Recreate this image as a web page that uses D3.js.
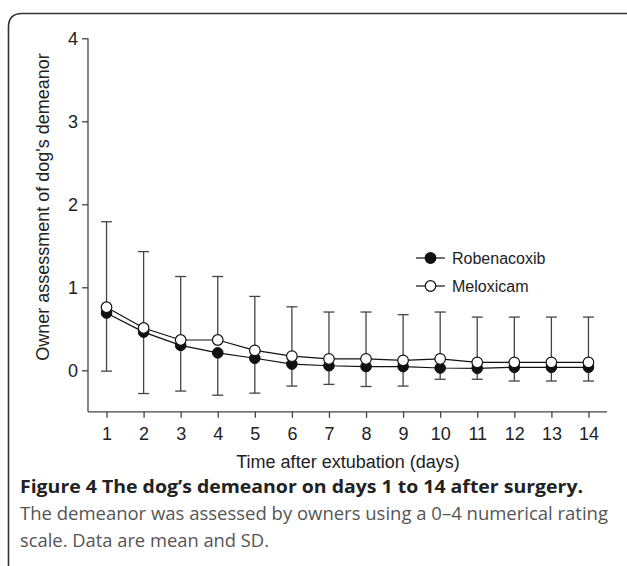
<!DOCTYPE html>
<html><head><meta charset="utf-8">
<script src="https://cdn.jsdelivr.net/npm/d3@7"></script>
<style>body{margin:0;background:#fff}svg{display:block}</style>
</head><body>
<script>
const days = [1,2,3,4,5,6,7,8,9,10,11,12,13,14];
const roboMean = [0.69,0.46,0.30,0.21,0.145,0.075,0.055,0.045,0.045,0.028,0.024,0.036,0.036,0.036];
const roboSD   = [0.70,0.74,0.55,0.51,0.42,0.265,0.225,0.24,0.235,0.136,0.132,0.165,0.165,0.165];
const meloMean = [0.76,0.51,0.365,0.365,0.24,0.17,0.137,0.137,0.12,0.137,0.096,0.096,0.096,0.096];
const meloSD   = [1.03,0.92,0.765,0.765,0.65,0.595,0.565,0.565,0.55,0.565,0.545,0.545,0.545,0.545];
const yTicks = [0,1,2,3,4];
const seriesNames = ["Robenacoxib","Meloxicam"];
const captionTitle = "Figure 4 The dog\u2019s demeanor on days 1 to 14 after surgery.";
const captionLines = ["The demeanor was assessed by owners using a 0\u20134 numerical rating","scale. Data are mean and SD."];

const W=627,H=566;
const svg=d3.select("body").append("svg").attr("width",W).attr("height",H);
const x=d3.scaleLinear().domain([0.5,14.5]).range([88,607]);
const y=d3.scaleLinear().domain([-0.5,4]).range([411.8,38.3]);
const font="Liberation Sans, Arial, Helvetica, sans-serif";
const fs=18;
const axisCol="#444";

// frame
svg.append("path").attr("d","M8.5,570 L8.5,27 Q8.5,13.5 22,13.5 L630,13.5")
  .attr("fill","none").attr("stroke","#333").attr("stroke-width",1.6);

// axes
const gx=svg.append("g").attr("transform",`translate(0,${y(-0.5)})`)
  .call(d3.axisBottom(x).tickValues(days).tickSize(6).tickPadding(9).tickFormat(d3.format("d")));
gx.select(".domain").attr("d",`M${x(0.5)},0H${x(14.5)}`);
const gy=svg.append("g").attr("transform",`translate(${x(0.5)},0)`)
  .call(d3.axisLeft(y).tickValues(yTicks).tickSize(6).tickPadding(4).tickFormat(d3.format("d")));
gy.select(".domain").attr("d",`M0,${y(4)}V${y(-0.5)}`);
[gx,gy].forEach(g=>{
  g.attr("font-size",null);
  g.selectAll(".domain,line").attr("stroke",axisCol).attr("stroke-width",1.3);
  g.selectAll("text").attr("font-family",font).attr("font-size",fs).attr("fill","#222");
});

svg.append("text").attr("x",348).attr("y",468).attr("text-anchor","middle")
  .attr("font-family",font).attr("font-size",fs).attr("fill","#222").text("Time after extubation (days)");
svg.append("text").attr("transform","translate(49,207) rotate(-90)").attr("text-anchor","middle")
  .attr("font-family",font).attr("font-size",fs).attr("fill","#222").text("Owner assessment of dog's demeanor");

// error bars
const cap=5.5;
const eb=svg.append("g").attr("stroke","#444").attr("stroke-width",1.3).attr("fill","none");
days.forEach((d,i)=>{
  const xm=x(d);
  const top=meloMean[i]+meloSD[i], bot=roboMean[i]-roboSD[i];
  eb.append("line").attr("x1",xm).attr("x2",xm).attr("y1",y(meloMean[i])).attr("y2",y(top));
  eb.append("line").attr("x1",xm-cap).attr("x2",xm+cap).attr("y1",y(top)).attr("y2",y(top));
  eb.append("line").attr("x1",xm).attr("x2",xm).attr("y1",y(roboMean[i])).attr("y2",y(bot));
  eb.append("line").attr("x1",xm-cap).attr("x2",xm+cap).attr("y1",y(bot)).attr("y2",y(bot));
});

const line=d3.line().x((d,i)=>x(days[i])).y(d=>y(d));
svg.append("path").attr("d",line(roboMean)).attr("fill","none").attr("stroke","#111").attr("stroke-width",1.2);
svg.append("path").attr("d",line(meloMean)).attr("fill","none").attr("stroke","#111").attr("stroke-width",1.2);
svg.append("g").selectAll("circle").data(roboMean).join("circle")
  .attr("cx",(d,i)=>x(days[i])).attr("cy",d=>y(d)).attr("r",5.3).attr("fill","#111").attr("stroke","#111").attr("stroke-width",1);
svg.append("g").selectAll("circle").data(meloMean).join("circle")
  .attr("cx",(d,i)=>x(days[i])).attr("cy",d=>y(d)).attr("r",5.3).attr("fill","#fff").attr("stroke","#111").attr("stroke-width",1.2);

// legend
const leg=svg.append("g");
seriesNames.forEach((n,i)=>{
  const ly=258+i*28;
  leg.append("line").attr("x1",416).attr("x2",445).attr("y1",ly).attr("y2",ly).attr("stroke","#111").attr("stroke-width",1.2);
  leg.append("circle").attr("cx",430.5).attr("cy",ly).attr("r",5.3)
    .attr("fill",i===0?"#111":"#fff").attr("stroke","#111").attr("stroke-width",1.2);
  leg.append("text").attr("x",452).attr("y",ly+6).attr("font-family",font).attr("font-size",16).attr("fill","#222").text(n);
});

// caption
const cfont="'Open Sans', 'Noto Sans', sans-serif";
svg.append("text").attr("x",20).attr("y",493).attr("font-family",cfont).attr("font-weight","bold")
  .attr("font-size",17.5).attr("fill","#222").attr("textLength",563).attr("lengthAdjust","spacingAndGlyphs").text(captionTitle);
svg.append("text").attr("x",20).attr("y",520).attr("font-family",cfont)
  .attr("font-size",17.5).attr("fill","#555").attr("textLength",588).attr("lengthAdjust","spacingAndGlyphs").text(captionLines[0]);
svg.append("text").attr("x",20).attr("y",547).attr("font-family",cfont)
  .attr("font-size",17.5).attr("fill","#555").attr("textLength",249).attr("lengthAdjust","spacingAndGlyphs").text(captionLines[1]);
</script>
</body></html>
